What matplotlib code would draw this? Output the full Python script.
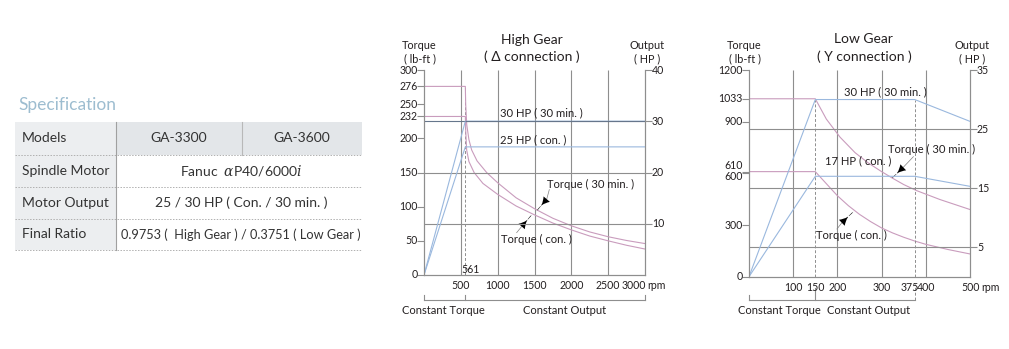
import matplotlib.pyplot as plt
from matplotlib.patches import Rectangle
from matplotlib.transforms import offset_copy

plt.rcParams['font.family'] = ['Lato', 'DejaVu Sans']
plt.rcParams['mathtext.fontset'] = 'dejavuserif'

TXT = '#231f20'
GRID = '#8e8e8e'
PINK = '#c99cbd'
BLUE = '#9ab8de'
SLATE = '#66768c'

TICK_FS = 7.6
NOTE_FS = 8.1

# spec table
spec_title = 'Specification'
spec_rows = ['Models', 'Spindle Motor', 'Motor Output', 'Final Ratio']
spec_models = ['GA-3300', 'GA-3600']
spec_values = [r'Fanuc  $\alpha$P40/6000$i$',
               '25 / 30 HP ( Con. / 30 min. )',
               '0.9753 (  High Gear ) / 0.3751 ( Low Gear )']

# high gear, delta connection (rpm / lb-ft / HP)
hi_rpm_30 = [0, 561, 566, 580, 610, 647, 720, 850, 1000, 1250, 1500, 1750, 2000, 2250, 2500, 2750, 3000]
hi_tq_30 = [276, 276, 250, 220, 198, 183, 167, 150, 135, 113, 97, 83, 72, 63, 56, 50.5, 46]
hi_rpm_con = [0, 561, 567, 579, 610, 680, 800, 1000, 1250, 1500, 1750, 2000, 2250, 2500, 2750, 3000]
hi_tq_con = [232, 232, 210, 183, 166, 150, 134, 118, 101, 88, 76, 66, 57, 50, 43.5, 38]
hi_hp_rpm = [0, 561, 3000]
hi_hp_30 = [0, 30, 30]
hi_hp_con = [0, 25, 25]
hi_left_ticks = [0, 50, 100, 150, 200, 232, 250, 276, 300]
hi_right_ticks = [10, 20, 30, 40]
hi_xticks = [500, 1000, 1500, 2000, 2500, 3000]
hi_grid_rpm = [500, 1000, 1500, 2000, 2500]
hi_base_rpm = 561

# low gear, Y connection
lo_rpm_30 = [0, 150, 175, 206, 240, 270, 300, 326, 350, 379, 432, 500]
lo_tq_30 = [1033, 1033, 915, 810, 720, 660, 610, 570, 535, 500, 448, 390]
lo_rpm_con = [0, 150, 175, 200, 225, 250, 275, 300, 325, 350, 375, 400, 450, 500]
lo_tq_con = [610, 610, 540, 470, 412, 362, 320, 283, 254, 229, 207, 188, 158, 132]
lo_hp_rpm = [0, 150, 375, 500]
lo_hp_30 = [0, 30, 30, 26.3]
lo_hp_con = [0, 17, 17, 15.3]
lo_left_ticks = [0, 300, 600, 610, 900, 1033, 1200]
lo_right_ticks = [5, 15, 25, 35]
lo_xticks = [100, 150, 200, 300, 375, 400, 500]
lo_grid_rpm = [100, 200, 300, 400]
lo_base_rpm = 150
lo_max_rpm = 375

fig = plt.figure(figsize=(10.09, 3.49), dpi=100)

# ---------- table ----------
bg = fig.add_axes([0, 0, 1, 1])
bg.set_xlim(0, 1009)
bg.set_ylim(349, 0)
bg.axis('off')
bg.text(18, 105, spec_title, fontsize=12.5, color='#9dbdd0', va='center')
row_y = [122, 155, 187, 218.5, 250]
x0, x1, x2, x3 = 15, 116, 242, 362
for i, name in enumerate(spec_rows):
    top, bot = row_y[i], row_y[i + 1]
    bg.add_patch(Rectangle((x0, top), x1 - x0, bot - top, color='#eceef0', lw=0))
    if i == 0:
        bg.add_patch(Rectangle((x1, top), x3 - x1, bot - top, color='#e3e6e9', lw=0))
        bg.plot([x2, x2], [top, bot], color='#b8b8b8', lw=0.8)
        bg.text((x1 + x2) / 2, (top + bot) / 2, spec_models[0], ha='center', va='center',
                fontsize=10, color='#333333')
        bg.text((x2 + x3) / 2, (top + bot) / 2, spec_models[1], ha='center', va='center',
                fontsize=10, color='#333333')
    else:
        bg.text((x1 + x3) / 2 + 2, (top + bot) / 2, spec_values[i - 1], ha='center', va='center',
                fontsize=9.2 if i == 3 else 10, color='#333333')
    bg.text(22, (top + bot) / 2, name, va='center', fontsize=10, color='#333333')
    bg.plot([x0, x3], [bot, bot], color='#b0b0b0', lw=0.7, ls=(0, (1.5, 1.5)))
bg.plot([x1, x1], [row_y[0], row_y[-1]], color='#a0a0a0', lw=0.8)


def dress(ax, ax2, left_ticks, right_ticks, grid_hp, grid_rpm):
    for a in (ax, ax2):
        a.spines['top'].set_visible(False)
        for s in ['left', 'bottom', 'right']:
            a.spines[s].set_color(GRID)
            a.spines[s].set_linewidth(0.8)
    ax.set_xticks([])
    ax.set_yticks(left_ticks)
    ax2.set_yticks(right_ticks)
    ax.tick_params(axis='y', length=5, width=0.8, color=GRID, labelleft=False)
    ax2.tick_params(axis='y', length=5, width=0.8, color=GRID, labelright=False)
    ax.patch.set_alpha(0)
    ax2.hlines(grid_hp, 0, ax.get_xlim()[1], color=GRID, lw=0.8)
    ax.vlines(grid_rpm, 0, ax.get_ylim()[1], color=GRID, lw=0.8)
    for v in left_ticks:
        ax.text(0, v, str(v), transform=offset_copy(ax.get_yaxis_transform(), fig=fig, x=-6.5, y=0, units='dots'),
                ha='right', va='center', fontsize=TICK_FS, color=TXT)
    for v in right_ticks:
        ax2.text(1, v, str(v), transform=offset_copy(ax2.get_yaxis_transform(), fig=fig, x=7, y=0, units='dots'),
                 ha='left', va='center', fontsize=TICK_FS, color=TXT)


def xlabel(ax, v, dx=0, ha='center'):
    ax.text(v, 0, str(v), transform=offset_copy(ax.get_xaxis_transform(), fig=fig, x=dx, y=-10.5, units='dots'),
            ha=ha, va='center', fontsize=TICK_FS, color=TXT)


def heads(ax, title, sub, tx):
    ax.text(tx, 1.148, title, transform=ax.transAxes, ha='center', va='center', fontsize=10, color=TXT)
    ax.text(tx, 1.066, sub, transform=ax.transAxes, ha='center', va='center', fontsize=10, color=TXT)
    ax.text(-0.02, 1.119, 'Torque', transform=ax.transAxes, ha='center', va='center', fontsize=7.8, color=TXT)
    ax.text(-0.02, 1.054, '( lb-ft )', transform=ax.transAxes, ha='center', va='center', fontsize=7.8, color=TXT)
    ax.text(1.008, 1.119, 'Output', transform=ax.transAxes, ha='center', va='center', fontsize=7.8, color=TXT)
    ax.text(1.008, 1.054, '( HP )', transform=ax.transAxes, ha='center', va='center', fontsize=7.8, color=TXT)


def pointer(ax, label, text_xy, lead_xy, base_xy, tip_xy):
    ax.text(text_xy[0], text_xy[1], label, ha='left', va='center', fontsize=NOTE_FS, color=TXT)
    ax.plot([lead_xy[0], base_xy[0]], [lead_xy[1], base_xy[1]], color='#808080', lw=0.5)
    ax.annotate('', xy=tip_xy, xytext=base_xy,
                arrowprops=dict(arrowstyle='wedge,tail_width=0.6,shrink_factor=0.05', fc='black', ec='none',
                                mutation_scale=10, shrinkA=0, shrinkB=0))


def bracket(ax, yb, end, mid, left_txt, right_txt, ltx, rtx, mid_dashed):
    tr = ax.get_xaxis_transform()
    h = yb / 25.0 * 5.0
    ax.plot([0, end], [yb, yb], transform=tr, clip_on=False, color=GRID, lw=0.8)
    ax.plot([0, 0], [yb, yb - h], transform=tr, clip_on=False, color=GRID, lw=0.8)
    if mid_dashed:
        ax.plot([end, end], [yb, yb - h * 3.4], transform=tr, clip_on=False, color=GRID, lw=0.7,
                ls=(0, (3, 2)))
    else:
        ax.plot([end, end], [yb, yb - h], transform=tr, clip_on=False, color=GRID, lw=0.8)
    ax.plot([mid, mid], [yb, yb - h * (2.6 if mid_dashed else 1)], transform=tr, clip_on=False, color=GRID, lw=0.8)
    ty = yb * 1.43
    ax.text(ltx, ty, left_txt, transform=tr, ha='center', va='center', fontsize=8, color=TXT)
    ax.text(rtx, ty, right_txt, transform=tr, ha='center', va='center', fontsize=8, color=TXT)


# ---------- high gear ----------
ax = fig.add_axes([424 / 1009, 74 / 349, 221 / 1009, 205 / 349])
ax.set_xlim(0, 3000)
ax.set_ylim(0, 300)
ax2 = ax.twinx()
ax2.set_ylim(0, 40)
dress(ax, ax2, hi_left_ticks, hi_right_ticks, [10, 20], hi_grid_rpm)
ax2.hlines([30], 0, 3000, color=SLATE, lw=0.8)
ax.vlines([hi_base_rpm], 0, hi_tq_30[1], color=GRID, lw=0.7, linestyles=(0, (3, 2)))
ax.plot(hi_rpm_30, hi_tq_30, color=PINK, lw=0.8)
ax.plot(hi_rpm_con, hi_tq_con, color=PINK, lw=0.8)
ax2.plot(hi_hp_rpm, hi_hp_30, color=BLUE, lw=0.8)
ax2.plot(hi_hp_rpm, hi_hp_con, color=BLUE, lw=0.8)
ax2.hlines([30], hi_base_rpm, 3000, color=SLATE, lw=0.8)
for v in hi_xticks[:-1]:
    xlabel(ax, v)
xlabel(ax, 3000, dx=0.5, ha='right')
ax.text(1, 0, 'rpm', transform=offset_copy(ax.transAxes, fig=fig, x=2, y=-10.5, units='dots'),
        ha='left', va='center', fontsize=TICK_FS, color=TXT)
ax.text(hi_base_rpm, 0, str(hi_base_rpm),
        transform=offset_copy(ax.get_xaxis_transform(), fig=fig, x=-3.5, y=5.5, units='dots'),
        ha='left', va='center', fontsize=TICK_FS, color=TXT)
heads(ax, 'High Gear', '( Δ connection )', 0.487)
ax.text(1030, 237, '30 HP ( 30 min. )', ha='left', va='center', fontsize=NOTE_FS, color=TXT)
ax.text(1030, 198, '25 HP ( con. )', ha='left', va='center', fontsize=NOTE_FS, color=TXT)
pointer(ax, 'Torque ( 30 min. )', (1666, 133), (1701, 125), (1666, 111), (1530, 94))
pointer(ax, 'Torque ( con. )', (1045, 52), (1258, 62), (1326, 71), (1462, 88))
bracket(ax, -0.122, 3000, hi_base_rpm, 'Constant Torque', 'Constant Output', 258, 1914, False)

# ---------- low gear ----------
bx = fig.add_axes([749 / 1009, 72.3 / 349, 221 / 1009, 206.7 / 349])
bx.set_xlim(0, 500)
bx.set_ylim(0, 1200)
bx2 = bx.twinx()
bx2.set_ylim(0, 35)
dress(bx, bx2, [t for t in lo_left_ticks if t not in (600, 610)], lo_right_ticks, [5, 15, 25], lo_grid_rpm)
bx.set_yticks(lo_left_ticks)
# 610 and 600 sit almost on top of each other, so spread their labels apart
for v, dy in [(610, 5.8), (600, -3.4)]:
    bx.text(0, v, str(v), transform=offset_copy(bx.get_yaxis_transform(), fig=fig, x=-6.5, y=dy, units='dots'),
            ha='right', va='center', fontsize=TICK_FS, color=TXT)
bx2.vlines([lo_base_rpm, lo_max_rpm], 0, 30, color=GRID, lw=0.7, linestyles=(0, (3, 2)))
bx.plot(lo_rpm_30, lo_tq_30, color=PINK, lw=0.8)
bx.plot(lo_rpm_con, lo_tq_con, color=PINK, lw=0.8)
bx2.plot(lo_hp_rpm, lo_hp_30, color=BLUE, lw=0.8)
bx2.plot(lo_hp_rpm, lo_hp_con, color=BLUE, lw=0.8)
for v in lo_xticks:
    xlabel(bx, v, dx=-5 if v == 375 else 0.5)
bx.text(1, 0, 'rpm', transform=offset_copy(bx.transAxes, fig=fig, x=11.5, y=-10.5, units='dots'),
        ha='left', va='center', fontsize=TICK_FS, color=TXT)
heads(bx, 'Low Gear', '( Y connection )', 0.52)
bx.text(215, 1074, '30 HP ( 30 min. )', ha='left', va='center', fontsize=NOTE_FS, color=TXT)
bx.text(173, 672, '17 HP ( con. )', ha='left', va='center', fontsize=NOTE_FS, color=TXT)
pointer(bx, 'Torque ( 30 min. )', (315, 740), (372, 697), (349, 635), (323, 571))
pointer(bx, 'Torque ( con. )', (152, 242), (199, 277), (210, 313), (236, 377))
bracket(bx, -0.113, lo_max_rpm, lo_base_rpm, 'Constant Torque', 'Constant Output', 69, 271, True)

fig.savefig('out.png', dpi=100)
